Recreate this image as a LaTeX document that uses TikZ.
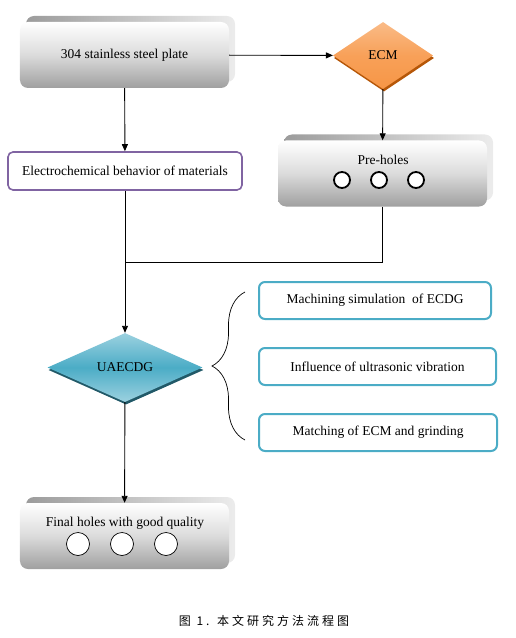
\documentclass[tikz,border=0pt]{standalone}
\usepackage{fontspec}
\setmainfont{Liberation Serif}
\newfontfamily\cjk[LetterSpace=25]{Noto Sans CJK SC}
\usetikzlibrary{shapes.geometric,arrows.meta,decorations.pathreplacing,shadows}
\definecolor{ecmorange}{HTML}{F79646}
\definecolor{ecmdark}{HTML}{B65708}
\definecolor{uateal}{HTML}{4BACC6}
\definecolor{uadark}{HTML}{215968}
\definecolor{elecpurple}{HTML}{8064A2}
\tikzset{
  txt/.style={font=\fontsize{13.5bp}{15bp}\selectfont},
  platebox/.style={rounded corners=8bp, minimum width=209bp, minimum height=66bp, inner sep=0pt,
    top color=white, bottom color=gray!75, middle color=gray!28,
    general shadow={shadow xshift=6bp, shadow yshift=6bp, left color=gray!78, right color=gray!15},
    txt},
  ecmdiamond/.style={diamond, minimum width=100bp, minimum height=67bp, inner sep=0pt,
    top color=ecmorange!65!white, bottom color=ecmorange, middle color=ecmorange!90!white,
    general shadow={shadow xshift=1bp, shadow yshift=-2.5bp, fill=ecmdark}, txt},
  uadiamond/.style={diamond, minimum width=155bp, minimum height=69bp, inner sep=0pt,
    top color=uateal!55!white, bottom color=uateal!55!white, middle color=uateal,
    general shadow={shadow xshift=1bp, shadow yshift=-2.5bp, fill=uadark}, txt},
  elecbox/.style={draw=elecpurple, line width=1.6bp, rounded corners=5bp, fill=white,
    minimum width=234bp, minimum height=38bp, inner sep=0pt, txt},
  aimbox/.style={draw=uateal, line width=2bp, rounded corners=6bp, fill=white,
    minimum height=37bp, inner sep=0pt, txt},
  prehole/.style={circle, draw=black, line width=1.8bp, fill=white, minimum size=16bp, inner sep=0pt},
  finalhole/.style={circle, draw=black, line width=0.7bp, fill=white, minimum size=23bp, inner sep=0pt},
  arr/.style={line width=0.9bp, -{Triangle[length=7bp,width=6bp]}},
  ln/.style={line width=0.9bp}
}
\begin{document}
\begin{tikzpicture}[x=1bp,y=-1bp]
\useasboundingbox (0,0) rectangle (516,638);
\node[platebox] (plate) at (124.5,55) {304 stainless steel plate};
\node[ecmdiamond] (ecm) at (383,55.5) {ECM};
\node[elecbox] (elec) at (125,171) {Electrochemical behavior of materials};
\node[platebox] (pre) at (382.5,173.5) {};
\node[txt] (pretext) at (383,160) {Pre-holes};
\foreach \x [count=\i] in {342,379,416} \node[prehole] (ph\i) at (\x,180) {};
\node[uadiamond] (ua) at (125,367.5) {UAECDG};
\node[aimbox, minimum width=232bp] (aim1) at (375,300.5) {Machining simulation \ of ECDG};
\node[aimbox, minimum width=237bp] (aim2) at (377.5,366.5) {Influence of ultrasonic vibration};
\node[aimbox, minimum width=238bp] (aim3) at (378,432.5) {Matching of ECM and grinding};
\node[platebox] (final) at (124.5,536) {};
\node[txt] (finaltext) at (125,523) {Final holes with good quality};
\foreach \x [count=\i] in {78,122,166} \node[finalhole] (fh\i) at (\x,544) {};
\coordinate (join) at (125,262);
\coordinate (brbot) at (245,440);
\coordinate (brtop) at (245,292);
\draw[arr] (plate) -- (ecm);
\draw[arr] (plate) -- (elec);
\draw[arr] (ecm) -- (pre);
\draw[ln] (pre.south) |- (join);
\draw[arr] (elec) -- (ua);
\draw[arr] (ua) -- (final);
\draw[line width=0.7bp, decorate, decoration={brace, amplitude=33bp}] (brbot) -- (brtop);
\node[font=\cjk\fontsize{12bp}{14bp}\selectfont] (caption) at (264,621) {图 1. 本文研究方法流程图};
\end{tikzpicture}
\end{document}
